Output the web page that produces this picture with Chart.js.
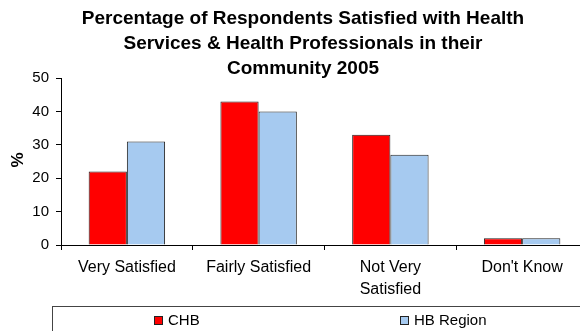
<!DOCTYPE html>
<html>
<head>
<meta charset="utf-8">
<script src="https://cdn.jsdelivr.net/npm/chart.js@4.4.1/dist/chart.umd.min.js"></script>
<style>
html,body{margin:0;padding:0;background:#fff;overflow:hidden;}
#wrap{width:580px;height:331px;overflow:hidden;position:relative;}
canvas{display:block;}
</style>
</head>
<body>
<div id="wrap"><canvas id="c" width="600" height="331"></canvas></div>
<script>
const categories = ['Very Satisfied', 'Fairly Satisfied', ['Not Very', 'Satisfied'], "Don't Know"];
const chbValues = [22, 43, 33, 2];
const hbRegionValues = [31, 40, 27, 2];
const seriesNames = ['CHB', 'HB Region'];
const yTicks = [0, 10, 20, 30, 40, 50];
const titleLines = ['Percentage of Respondents Satisfied with Health', 'Services & Health Professionals in their', 'Community 2005'];
const yTitle = '%';

const FONT = "'Liberation Sans', Arial, sans-serif";

const decor = {
  id: 'decor',
  afterDraw(chart) {
    const ctx = chart.ctx;
    ctx.save();
    ctx.fillStyle = '#000';
    ctx.textAlign = 'center';
    ctx.textBaseline = 'middle';
    ctx.font = 'bold 19px ' + FONT;
    const ty = [19, 44, 69];
    titleLines.forEach((t, i) => ctx.fillText(t, 303, ty[i]));
    // y title
    ctx.save();
    ctx.translate(18, 160);
    ctx.rotate(-Math.PI / 2);
    ctx.font = 'bold 17px ' + FONT;
    ctx.fillText(yTitle, 0, 0);
    ctx.restore();
    // legend box
    ctx.strokeStyle = '#444';
    ctx.lineWidth = 1;
    ctx.strokeRect(52.5, 306.5, 600, 100);
    const items = [{x: 154}, {x: 400}];
    chart.data.datasets.forEach((ds, i) => {
      const x = items[i].x;
      ctx.fillStyle = ds.backgroundColor;
      ctx.fillRect(x, 316, 9, 9);
      ctx.strokeStyle = '#222';
      ctx.strokeRect(x + 0.5, 316.5, 8, 8);
      ctx.fillStyle = '#000';
      ctx.textAlign = 'left';
      ctx.font = '15px ' + FONT;
      ctx.fillText(ds.label, x + 14, 321);
    });
    ctx.restore();
  }
};

new Chart(document.getElementById('c'), {
  type: 'bar',
  data: {
    labels: categories,
    datasets: [
      {label: seriesNames[0], data: chbValues, backgroundColor: '#ff0000', borderColor: '#222', borderWidth: 1},
      {label: seriesNames[1], data: hbRegionValues, backgroundColor: '#a6caf0', borderColor: '#222', borderWidth: 1}
    ]
  },
  options: {
    responsive: false,
    animation: false,
    categoryPercentage: 0.58,
    barPercentage: 1.0,
    layout: {padding: {top: 78, right: 12, left: 0, bottom: 0}},
    plugins: {legend: {display: false}, title: {display: false}, tooltip: {enabled: false}},
    scales: {
      x: {
        afterFit(s) { s.height = 86; },
        grid: {offset: true, drawOnChartArea: false, drawTicks: true, tickLength: 5, color: '#000', tickColor: '#000'},
        border: {color: '#000', width: 1},
        ticks: {color: '#000', font: {family: FONT, size: 16, lineHeight: '22px'}, padding: 7, maxRotation: 0, autoSkip: false}
      },
      y: {
        min: 0, max: 50,
        afterFit(s) { s.width = 61; },
        afterBuildTicks(s) { s.ticks = yTicks.map(v => ({value: v})); },
        grid: {drawOnChartArea: false, drawTicks: true, tickLength: 5, color: '#000', tickColor: '#000'},
        border: {color: '#000', width: 1},
        ticks: {color: '#000', font: {family: FONT, size: 15}, padding: 7}
      }
    }
  },
  plugins: [decor]
});
</script>
</body>
</html>
